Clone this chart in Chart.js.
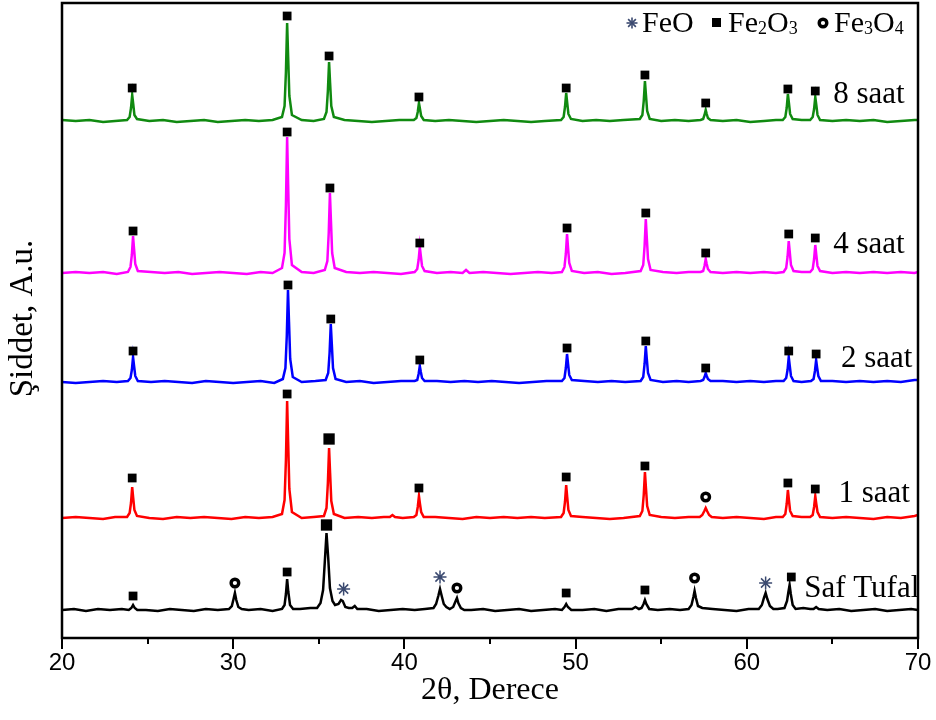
<!DOCTYPE html>
<html lang="tr">
<head>
<meta charset="UTF-8" />
<title>XRD - Tufal</title>
<style>
  html, body { margin: 0; padding: 0; background: #fff; }
  #wrap { width: 936px; height: 720px; }
</style>
</head>
<body>
<div id="wrap"><canvas id="xrdChart" width="936" height="720"></canvas></div>

<script src="https://cdn.jsdelivr.net/npm/chart.js@4/dist/chart.umd.min.js"></script>
<script>
  // 2theta / intensity pairs (intensity above each trace's own baseline)
  const saat8 = [
    [20,1],[20.8,0],[21.6,1],[22.4,-1],[23.1,0],
    [23.8,1],[23.95,4],[24.03,13],[24.1,26],[24.16,17],[24.23,6],[24.38,2],
    [25.1,0],[25.9,1],[26.7,-1],[27.5,0],[28.3,1],[29.1,-1],[29.9,0],[30.7,1],[31.5,0],[32.3,1],
    [32.85,4],[33.0,15],[33.08,49],[33.15,98],[33.21,64],[33.28,25],[33.43,6],
    [34.0,1],[34.7,0],
    [35.3,2],[35.45,9],[35.53,30],[35.6,59],[35.66,38],[35.73,15],[35.88,4],
    [36.5,1],[37.3,0],[38.1,-1],[38.9,0],[39.7,1],
    [40.55,1],[40.7,3],[40.78,9],[40.85,18],[40.91,12],[40.98,5],[41.13,1],
    [41.8,0],[42.6,1],[43.4,0],[44.2,-1],[45.0,0],[45.8,1],[46.6,0],[47.4,-1],[48.2,0],
    [49.15,1],[49.3,4],[49.38,14],[49.45,28],[49.51,18],[49.58,7],[49.73,2],
    [50.4,0],[51.2,1],[52.0,0],[52.8,1],
    [53.75,2],[53.9,6],[53.98,20],[54.05,40],[54.11,26],[54.18,10],[54.33,2],
    [55.0,0],[55.8,1],[56.6,0],
    [57.3,1],[57.45,2],[57.53,6],[57.6,11],[57.66,7],[57.73,3],[57.88,1],
    [58.6,0],[59.4,1],[60.2,-1],[61.0,0],[61.7,1],
    [62.1,1],[62.25,4],[62.33,13],[62.4,27],[62.46,18],[62.53,7],[62.68,2],
    [63.2,1],
    [63.7,1],[63.85,4],[63.93,12],[64.0,24],[64.06,16],[64.13,6],[64.28,1],
    [65.0,0],[65.8,1],[66.6,0],[67.4,1],[68.2,-1],[69.0,0],[69.8,1],[70,1]
  ];

  const saat4 = [
    [20,0],[20.8,1],[21.6,0],[22.4,1],[23.2,-1],
    [23.85,1],[24.0,6],[24.08,18],[24.15,37],[24.21,24],[24.28,9],[24.43,2],
    [25.2,1],[26.0,0],[26.8,1],[27.6,-1],[28.4,0],[29.2,1],[30.0,0],[30.8,-1],[31.6,1],[32.3,0],
    [32.85,5],[33.0,20],[33.08,68],[33.15,136],[33.21,88],[33.28,34],[33.43,8],
    [34.0,1],[34.7,0],
    [35.35,3],[35.5,12],[35.58,40],[35.65,80],[35.71,52],[35.78,20],[35.93,5],
    [36.6,1],[37.4,0],[38.2,1],[39.0,0],[39.8,-1],
    [40.6,1],[40.75,4],[40.83,13],[40.9,26],[40.96,17],[41.03,7],[41.18,2],
    [41.9,0],[42.7,1],[43.4,0],[43.6,3],[43.8,0],[44.6,1],[45.4,0],[46.2,-1],[47.0,0],[47.8,1],[48.6,0],
    [49.2,1],[49.35,6],[49.43,19],[49.5,39],[49.56,25],[49.63,10],[49.78,2],
    [50.5,0],[51.3,1],[52.1,-1],[52.9,0],
    [53.8,2],[53.95,8],[54.03,27],[54.1,54],[54.16,35],[54.23,14],[54.38,3],
    [55.1,1],[55.9,0],[56.6,1],
    [57.3,1],[57.45,2],[57.53,7],[57.6,14],[57.66,9],[57.73,4],[57.88,1],
    [58.6,0],[59.4,1],[60.2,0],[61.0,1],[61.7,0],
    [62.15,1],[62.3,5],[62.38,16],[62.45,32],[62.51,21],[62.58,8],[62.73,2],
    [63.2,1],
    [63.7,1],[63.85,4],[63.93,14],[64.0,28],[64.06,18],[64.13,7],[64.28,2],
    [65.0,0],[65.8,1],[66.6,0],[67.4,1],[68.2,0],[69.0,1],[69.8,0],[70,1]
  ];

  const saat2 = [
    [20,0],[20.8,-1],[21.6,0],[22.4,1],[23.2,0],
    [23.85,1],[24.0,4],[24.08,12],[24.15,25],[24.21,16],[24.28,6],[24.43,1],
    [25.2,0],[26.0,1],[26.8,0],[27.6,-1],[28.4,1],[29.2,0],[30.0,-1],[30.8,0],[31.6,1],[32.4,-1],
    [32.9,3],[33.05,14],[33.13,46],[33.2,92],[33.26,60],[33.33,23],[33.48,5],
    [34.0,0],[34.8,1],
    [35.4,2],[35.55,9],[35.63,29],[35.7,58],[35.76,38],[35.83,14],[35.98,3],
    [36.6,0],[37.4,1],[38.2,-1],[39.0,0],[39.8,1],
    [40.6,1],[40.75,2],[40.83,8],[40.9,16],[40.96,10],[41.03,4],[41.18,1],
    [41.9,1],[42.7,0],[43.5,1],[44.3,0],[45.1,1],[45.9,0],[46.7,-1],[47.5,0],[48.3,1],
    [49.2,1],[49.35,4],[49.43,14],[49.5,28],[49.56,18],[49.63,7],[49.78,2],
    [50.5,1],[51.3,0],[52.1,1],[52.9,0],
    [53.8,1],[53.95,5],[54.03,18],[54.1,36],[54.16,23],[54.23,9],[54.38,2],
    [55.1,0],[55.9,1],[56.6,0],
    [57.3,1],[57.45,2],[57.53,5],[57.6,9],[57.66,6],[57.73,3],[57.88,1],
    [58.6,1],[59.4,0],[60.2,1],[61.0,0],[61.7,1],
    [62.15,1],[62.3,4],[62.38,12],[62.45,25],[62.51,16],[62.58,6],[62.73,1],
    [63.2,0],
    [63.75,1],[63.9,3],[63.98,11],[64.05,22],[64.11,14],[64.18,6],[64.33,1],
    [65.0,1],[65.8,0],[66.6,1],[67.4,0],[68.2,1],[69.0,0],[69.8,2],[70,2]
  ];

  const saat1 = [
    [20,0],[20.8,1],[21.6,0],[22.4,-1],[23.1,1],
    [23.8,1],[23.95,5],[24.03,15],[24.1,31],[24.16,20],[24.23,8],[24.38,2],
    [25.1,0],[25.9,-1],[26.7,1],[27.5,0],[28.3,1],[29.1,0],[29.9,-1],[30.7,1],[31.5,0],[32.3,1],
    [32.85,4],[33.0,18],[33.08,58],[33.15,117],[33.21,76],[33.28,29],[33.43,6],
    [34.0,0],[34.7,1],
    [35.3,2],[35.45,10],[35.53,35],[35.6,70],[35.66,45],[35.73,17],[35.88,4],
    [36.5,0],[37.3,1],[38.1,0],[38.8,1],
    [39.15,1],[39.3,3],[39.45,1],
    [39.9,0],
    [40.55,1],[40.7,3],[40.78,11],[40.85,22],[40.91,14],[40.98,6],[41.13,1],
    [41.8,1],[42.6,0],[43.4,-1],[44.2,1],[45.0,0],[45.8,1],[46.6,0],[47.4,1],[48.2,0],
    [49.15,1],[49.3,5],[49.38,16],[49.45,33],[49.51,21],[49.58,8],[49.73,2],
    [50.4,1],[51.2,0],[52.0,-1],[52.8,0],
    [53.75,2],[53.9,7],[53.98,23],[54.05,46],[54.11,30],[54.18,12],[54.33,3],
    [55.0,1],[55.8,0],[56.6,1],
    [57.25,1],[57.4,3],[57.52,7],[57.6,10],[57.68,7],[57.8,3],[57.95,1],
    [58.6,0],[59.4,1],[60.2,0],[61.0,-1],[61.7,1],
    [62.1,1],[62.25,4],[62.33,14],[62.4,28],[62.46,18],[62.53,7],[62.68,2],
    [63.2,1],
    [63.7,1],[63.85,3],[63.93,11],[64.0,22],[64.06,14],[64.13,6],[64.28,1],
    [65.0,0],[65.8,1],[66.6,0],[67.4,-1],[68.2,1],[69.0,0],[69.8,2],[70,3]
  ];

  const safTufal = [
    [20,0],[20.7,1],[21.4,-1],[22.1,1],[22.8,0],[23.5,1],
    [23.9,0],[24.05,2],[24.15,5],[24.25,2],[24.4,0],
    [24.9,0],[25.6,-1],[26.3,1],[27.0,0],[27.7,-1],[28.4,1],[29.1,0],
    [29.75,1],[29.92,4],[30.02,11],[30.1,17],[30.18,10],[30.3,3],[30.5,1],
    [30.9,0],[31.6,1],[32.3,-1],
    [32.85,1],[33.0,5],[33.08,16],[33.15,31],[33.22,18],[33.32,5],[33.5,1],
    [33.9,1],[34.5,2],
    [34.9,2],[35.1,7],[35.25,20],[35.35,48],[35.45,77],[35.55,52],[35.65,22],[35.8,9],[35.95,5],
    [36.15,6],[36.3,10],[36.4,9],[36.55,3],[36.75,2],
    [36.95,2],[37.1,4],[37.25,1],
    [37.8,1],[38.5,-1],[39.2,0],[39.9,1],[40.6,0],[41.2,1],
    [41.7,2],[41.85,6],[41.98,14],[42.08,21],[42.18,14],[42.3,6],[42.45,3],
    [42.65,1],[42.85,3],[42.97,8],[43.07,12],[43.15,7],[43.3,2],[43.5,0],
    [43.9,0],[44.6,1],[45.3,-1],[46.0,0],[46.7,1],[47.4,-1],[48.1,0],[48.8,1],
    [49.2,0],[49.35,3],[49.45,6],[49.55,3],[49.75,0],
    [50.4,0],[51.1,1],[51.8,-1],[52.5,1],
    [53.3,1],[53.5,3],[53.7,1],
    [53.85,2],[53.97,6],[54.05,10],[54.13,6],[54.3,1],
    [54.8,0],[55.5,1],[56.1,0],
    [56.6,1],[56.77,5],[56.88,13],[56.95,19],[57.03,12],[57.15,4],[57.4,2],
    [58.0,1],[58.7,0],[59.4,-1],[60.1,1],
    [60.7,1],[60.88,5],[61.0,12],[61.1,17],[61.2,11],[61.35,4],[61.55,1],
    [61.8,1],
    [62.2,2],[62.35,9],[62.43,18],[62.5,25],[62.57,16],[62.68,5],[62.85,1],
    [63.3,2],[63.7,1],
    [63.9,1],[64.05,3],[64.2,1],
    [64.7,0],[65.4,1],[66.1,-1],[66.8,0],[67.5,1],[68.2,-1],[68.9,0],[69.6,1],[70,0]
  ];

  const seriesNames = ['8 saat', '4 saat', '2 saat', '1 saat', 'Saf Tufal'];
  const seriesData = [saat8, saat4, saat2, saat1, safTufal];
  const seriesOffsets = [517, 365, 256, 120, 28];
  const seriesColors = ['#108a10', '#ff00ff', '#0000ff', '#ff0000', '#000000'];
  // where each trace name sits: [2theta, intensity] of the text baseline start
  const seriesLabelPos = [[65.05, 535], [65.05, 385], [65.5, 271], [65.35, 136], [63.35, 41]];

  // phase markers above the peaks, [2theta, intensity]
  const fe2o3Marks = [
    [24.1,550],[33.15,622],[35.6,582],[40.85,541],[49.45,550],[54.05,563],[57.6,535],[62.4,549],[64.0,547],
    [24.15,407],[33.15,506],[35.65,450],[40.9,395],[49.5,410],[54.1,425],[57.6,385],[62.45,404],[64.0,400],
    [24.15,287],[33.2,353],[35.7,319],[40.9,278],[49.5,290],[54.1,297],[57.6,270],[62.45,287],[64.05,284],
    [24.1,160],[33.15,244],[40.85,150],[49.45,161],[54.05,172],[62.4,155],[64.0,149],
    [24.15,42],[33.15,66],[49.45,45],[54.05,48],[62.6,61]
  ];
  const fe2o3BigMarks = [[35.6,199],[35.45,113]];
  const fe3o4Marks = [[57.6,141],[30.1,55],[43.07,50],[56.95,60]];
  const feoMarks = [[36.45,49],[42.08,61],[61.1,55]];

  const xMin = 20, xMax = 70, yMax = 635;
  const xTicks = [20, 25, 30, 35, 40, 45, 50, 55, 60, 65, 70];

  const toPts = (arr, off = 0) => arr.map(p => ({ x: p[0], y: p[1] + off }));

  const lineSets = seriesData.map((d, i) => ({
    label: seriesNames[i],
    data: toPts(d, seriesOffsets[i]),
    borderColor: seriesColors[i],
    borderWidth: 2.5,
    pointRadius: 0,
    tension: 0,
    fill: false,
    order: 2
  }));

  const markSets = [
    { label: 'Fe2O3', data: toPts(fe2o3Marks), pointStyle: 'rect', pointRadius: 6.2,
      backgroundColor: '#000', borderColor: '#000', borderWidth: 0 },
    { label: 'Fe2O3 big', data: toPts(fe2o3BigMarks), pointStyle: 'rect', pointRadius: 8,
      backgroundColor: '#000', borderColor: '#000', borderWidth: 0 },
    { label: 'Fe3O4', data: toPts(fe3o4Marks), pointStyle: 'circle', pointRadius: 3.8,
      backgroundColor: '#fff', borderColor: '#000', borderWidth: 3.4 },
    { label: 'FeO', data: toPts(feoMarks), pointStyle: 'star', pointRadius: 6.5,
      backgroundColor: '#3b4a70', borderColor: '#3b4a70', borderWidth: 1.5 }
  ].map(s => Object.assign(s, { showLine: false, order: 0, clip: false }));

  function chem(ctx, parts, x, y, size) {
    // parts: [text, isSubscript]
    parts.forEach(([t, sub]) => {
      ctx.font = (sub ? size * 0.6 : size) + 'px "Liberation Serif", "Times New Roman", serif';
      ctx.fillText(t, x, sub ? y + size * 0.08 : y);
      x += ctx.measureText(t).width;
    });
    return x;
  }

  const decorations = {
    id: 'decorations',
    afterDraw(chart) {
      const { ctx, chartArea: a, scales: { x, y } } = chart;
      ctx.save();
      ctx.fillStyle = '#000';
      ctx.strokeStyle = '#000';

      // frame
      ctx.lineWidth = 2.5;
      ctx.strokeRect(a.left, a.top, a.right - a.left, a.bottom - a.top);

      // ticks below the bottom axis, long at the labelled ones
      ctx.lineWidth = 2;
      xTicks.forEach(v => {
        const px = Math.round(x.getPixelForValue(v));
        const len = v % 10 === 0 ? 11 : 6;
        ctx.beginPath();
        ctx.moveTo(px, a.bottom);
        ctx.lineTo(px, a.bottom + len);
        ctx.stroke();
      });

      // trace names
      ctx.textBaseline = 'alphabetic';
      ctx.textAlign = 'left';
      ctx.font = '31px "Liberation Serif", "Times New Roman", serif';
      seriesNames.forEach((n, i) => {
        const [tx, ty] = seriesLabelPos[i];
        ctx.fillText(n, x.getPixelForValue(tx), y.getPixelForValue(ty));
      });

      // y title
      ctx.save();
      ctx.translate(a.left - 39, (a.top + a.bottom) / 2 - 2);
      ctx.rotate(-Math.PI / 2);
      ctx.textAlign = 'center';
      ctx.textBaseline = 'middle';
      ctx.font = '33px "Liberation Serif", "Times New Roman", serif';
      ctx.fillText('Şiddet, A.u.', 0, 0);
      ctx.restore();

      // phase legend, top right
      const ly = a.top + 29;
      const lsize = 30;
      ctx.textAlign = 'left';
      // FeO asterisk
      ctx.strokeStyle = '#3b4a70';
      ctx.lineWidth = 1.6;
      const ax = a.right - 286, ay = ly - 9, r = 5.5;
      for (let k = 0; k < 4; k++) {
        const ang = k * Math.PI / 4;
        ctx.beginPath();
        ctx.moveTo(ax - r * Math.cos(ang), ay - r * Math.sin(ang));
        ctx.lineTo(ax + r * Math.cos(ang), ay + r * Math.sin(ang));
        ctx.stroke();
      }
      ctx.fillStyle = '#000';
      chem(ctx, [['FeO', 0]], a.right - 276, ly, lsize);
      // Fe2O3 square
      ctx.fillRect(a.right - 206, ly - 14, 9, 9);
      chem(ctx, [['Fe', 0], ['2', 1], ['O', 0], ['3', 1]], a.right - 190, ly, lsize);
      // Fe3O4 ring
      ctx.beginPath();
      ctx.arc(a.right - 95, ly - 9, 3.8, 0, Math.PI * 2);
      ctx.fillStyle = '#fff';
      ctx.fill();
      ctx.strokeStyle = '#000';
      ctx.lineWidth = 3.4;
      ctx.stroke();
      ctx.fillStyle = '#000';
      chem(ctx, [['Fe', 0], ['3', 1], ['O', 0], ['4', 1]], a.right - 84, ly, lsize);

      ctx.restore();
    }
  };

  new Chart(document.getElementById('xrdChart').getContext('2d'), {
    type: 'line',
    data: { datasets: [...markSets, ...lineSets] },
    options: {
      responsive: false,
      animation: false,
      layout: { autoPadding: false, padding: { left: 62, right: 18, top: 3, bottom: 0 } },
      plugins: { legend: { display: false }, tooltip: { enabled: false } },
      scales: {
        x: {
          type: 'linear',
          min: xMin,
          max: xMax,
          grid: { display: false },
          border: { display: false },
          ticks: {
            stepSize: 10,
            maxRotation: 0,
            color: '#000',
            padding: 3,
            font: { family: '"Liberation Sans", Arial, sans-serif', size: 24 }
          },
          title: {
            display: true,
            text: '2θ, Derece',
            color: '#000',
            font: { family: '"Liberation Serif", "Times New Roman", serif', size: 32 },
            padding: { top: 0, bottom: 10 }
          },
          afterFit(scale) { scale.height = 82; }
        },
        y: { display: false, min: 0, max: yMax }
      }
    },
    plugins: [decorations]
  });
</script>
</body>
</html>
